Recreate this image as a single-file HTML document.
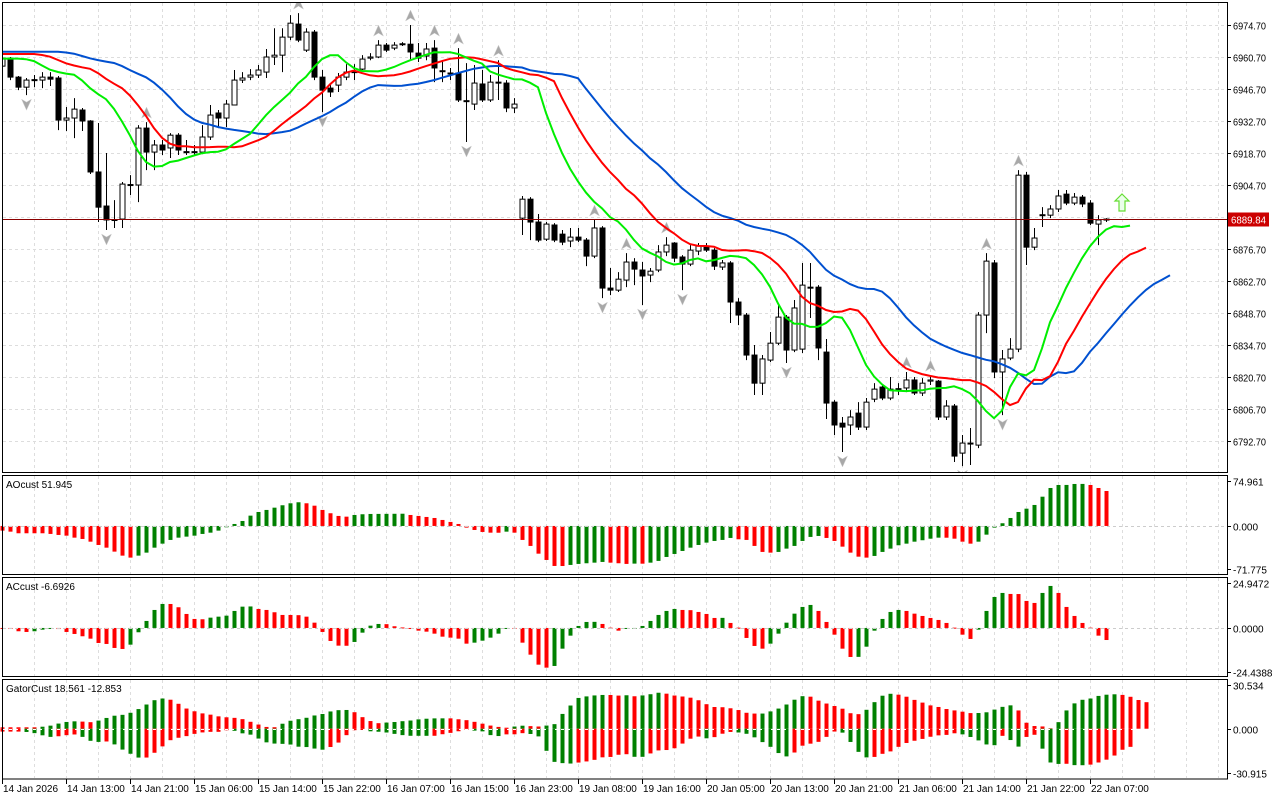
<!DOCTYPE html>
<html><head><meta charset="utf-8">
<style>
html,body{margin:0;padding:0;background:#fff;}
svg{display:block;font-family:"Liberation Sans",sans-serif;}
</style></head>
<body>
<svg id="chart" xmlns="http://www.w3.org/2000/svg" width="1280" height="800">
  <defs><clipPath id="mainClip"><rect x="3" y="3" width="1224" height="469"/></clipPath></defs>
  <rect x="0" y="0" width="1280" height="800" fill="#ffffff"/>
  <g id="grid"></g>
  <g id="main" clip-path="url(#mainClip)"></g>
  <g id="ao"></g>
  <g id="ac"></g>
  <g id="gator"></g>
  <g id="frames"></g>
  <g id="axes"></g>
</svg>
<script>
// ---------- DATA ----------
const timeLabels = ["14 Jan 2026","14 Jan 13:00","14 Jan 21:00","15 Jan 06:00","15 Jan 14:00","15 Jan 22:00","16 Jan 07:00","16 Jan 15:00","16 Jan 23:00","19 Jan 08:00","19 Jan 16:00","20 Jan 05:00","20 Jan 13:00","20 Jan 21:00","21 Jan 06:00","21 Jan 14:00","21 Jan 22:00","22 Jan 07:00"];
const priceTicks = [6974.70,6960.70,6946.70,6932.70,6918.70,6904.70,6890.70,6876.70,6862.70,6848.70,6834.70,6820.70,6806.70,6792.70];
const priceTickLabels = ["6974.70","6960.70","6946.70","6932.70","6918.70","6904.70","6890.70","6876.70","6862.70","6848.70","6834.70","6820.70","6806.70","6792.70"];
const lastPrice = 6889.84;
const O = [6956.7,6960.2,6951.9,6947.5,6950.6,6950.6,6951.9,6951.5,6933.1,6934.0,6937.5,6932.7,6910.4,6895.5,6889.4,6889.8,6904.7,6904.7,6929.6,6919.1,6922.2,6920.9,6926.5,6919.1,6919.3,6919.1,6925.7,6936.2,6934.0,6939.7,6950.6,6951.9,6952.8,6954.1,6960.7,6961.5,6969.4,6975.1,6963.7,6971.6,6951.9,6947.1,6948.4,6951.9,6954.1,6955.4,6960.2,6960.7,6965.9,6964.6,6966.3,6966.3,6962.4,6961.1,6964.6,6954.5,6953.7,6953.7,6941.4,6940.1,6948.9,6941.9,6949.7,6949.3,6938.4,6890.2,6898.5,6888.5,6881.0,6887.2,6883.2,6880.2,6881.9,6880.6,6873.6,6885.9,6859.6,6858.7,6863.1,6871.0,6867.5,6865.3,6867.5,6875.4,6879.3,6873.2,6870.1,6875.8,6878.0,6876.2,6868.8,6870.6,6853.5,6847.8,6830.3,6818.0,6828.1,6835.5,6846.9,6832.5,6832.9,6860.0,6860.0,6831.6,6809.7,6800.5,6799.7,6804.9,6798.8,6811.0,6816.3,6811.5,6815.4,6815.9,6819.4,6813.7,6818.9,6818.9,6803.2,6808.0,6787.4,6791.8,6790.9,6847.8,6870.6,6822.9,6829.0,6832.9,6909.0,6877.5,6891.5,6891.5,6894.2,6900.7,6896.8,6899.4,6896.8,6887.6,6889.4];
const H = [6961.5,6960.7,6952.4,6951.5,6952.8,6954.1,6954.1,6952.4,6938.8,6942.7,6938.4,6933.1,6931.8,6918.7,6898.1,6906.0,6909.0,6930.9,6932.2,6924.4,6924.4,6927.4,6927.4,6924.4,6922.2,6930.9,6939.7,6937.5,6941.9,6955.0,6954.1,6955.4,6957.2,6964.2,6973.3,6973.3,6979.0,6979.9,6973.3,6972.5,6955.0,6948.4,6953.7,6957.6,6957.6,6961.5,6962.4,6968.1,6966.8,6967.2,6967.2,6974.7,6966.8,6966.8,6968.1,6959.3,6955.9,6964.6,6958.0,6957.2,6955.0,6952.8,6959.3,6950.6,6942.7,6899.9,6899.4,6892.0,6888.5,6888.0,6885.0,6885.9,6885.9,6881.5,6889.4,6886.7,6868.4,6866.6,6874.9,6872.7,6871.0,6868.4,6878.4,6881.9,6879.7,6874.0,6878.4,6879.3,6879.3,6877.1,6871.9,6871.4,6855.2,6848.7,6834.7,6830.3,6840.4,6852.2,6847.8,6854.4,6870.6,6870.6,6860.9,6837.3,6810.6,6803.2,6806.2,6809.7,6811.5,6818.0,6817.2,6820.7,6818.0,6822.9,6820.7,6820.2,6821.5,6819.4,6810.6,6808.9,6795.3,6798.4,6849.1,6874.9,6871.9,6832.5,6837.7,6911.2,6910.4,6885.9,6895.0,6895.9,6902.5,6902.5,6901.2,6900.3,6898.1,6891.5,6890.2];
const L = [6955.9,6950.6,6946.2,6944.0,6947.5,6947.1,6948.0,6928.7,6928.3,6925.2,6928.3,6909.5,6888.5,6885.0,6885.9,6885.9,6900.3,6897.2,6911.2,6911.2,6917.8,6916.5,6917.8,6917.8,6917.8,6918.2,6924.4,6929.6,6930.0,6939.7,6949.3,6950.6,6951.5,6951.5,6957.2,6954.1,6968.1,6967.2,6962.9,6950.6,6936.6,6943.2,6945.4,6950.6,6950.6,6955.0,6959.3,6960.2,6962.9,6963.7,6965.5,6959.3,6958.5,6959.3,6949.7,6949.7,6950.6,6941.0,6923.5,6937.5,6941.0,6941.0,6941.9,6936.6,6936.2,6882.8,6880.6,6879.7,6880.2,6879.7,6878.4,6877.5,6879.7,6869.2,6872.7,6855.2,6856.5,6857.9,6860.0,6860.9,6852.2,6862.2,6866.6,6873.6,6871.0,6858.7,6869.2,6874.0,6875.4,6867.5,6867.5,6844.3,6843.4,6828.1,6812.8,6812.8,6827.2,6834.7,6826.8,6831.6,6831.2,6846.5,6828.1,6802.3,6795.3,6787.9,6795.3,6797.5,6797.5,6809.7,6810.6,6810.6,6812.8,6814.1,6812.8,6812.4,6817.2,6801.9,6801.9,6783.5,6781.7,6782.2,6789.6,6839.9,6820.2,6804.0,6828.1,6831.6,6869.7,6876.2,6886.3,6890.2,6892.9,6895.9,6895.9,6895.0,6887.2,6878.4,6888.5];
const C = [6960.2,6951.9,6947.5,6950.6,6950.8,6951.9,6951.0,6933.1,6934.0,6937.9,6932.7,6910.4,6895.0,6889.4,6889.6,6905.1,6904.9,6929.6,6919.1,6922.2,6920.0,6926.5,6920.0,6919.3,6919.1,6925.7,6935.3,6934.0,6940.1,6950.6,6951.5,6952.8,6955.0,6960.7,6961.5,6969.4,6975.5,6968.1,6971.6,6951.9,6946.2,6945.4,6951.9,6954.1,6954.3,6959.8,6960.7,6965.9,6963.7,6965.9,6966.5,6962.9,6960.2,6964.2,6955.9,6954.7,6953.5,6941.9,6941.6,6949.3,6941.9,6949.7,6949.5,6938.4,6940.1,6898.5,6888.5,6880.6,6887.6,6880.6,6879.7,6881.9,6880.6,6873.6,6885.9,6859.6,6858.7,6863.5,6871.0,6867.9,6864.9,6867.0,6875.4,6878.4,6872.7,6870.1,6876.2,6878.0,6876.2,6869.2,6870.6,6853.5,6847.8,6830.3,6818.0,6828.6,6835.5,6846.9,6832.5,6850.9,6860.9,6859.8,6833.4,6809.3,6799.7,6798.8,6803.2,6798.8,6809.7,6815.4,6811.5,6815.4,6815.6,6819.4,6813.7,6818.0,6819.4,6803.2,6808.0,6786.1,6791.8,6791.4,6847.8,6871.4,6822.9,6828.6,6832.9,6909.0,6877.5,6881.5,6891.7,6894.2,6899.9,6896.8,6899.4,6896.4,6888.0,6889.4,6889.8];
const jawSeed = 6963.0, teethSeed = 6962.0, lipsSeed = 6960.0;
const jawPeriod = 13, teethPeriod = 8, lipsPeriod = 5;
const jawShift = 8, teethShift = 5, lipsShift = 3;
const aoValues = [-7.8,-9.5,-12.2,-12.2,-12.2,-12.2,-13.3,-15,-16.2,-19.5,-21.7,-26.2,-31.7,-36.2,-42.8,-49.5,-52.8,-49.5,-44.5,-36.2,-29.5,-23.3,-19.5,-17.8,-16.2,-13.3,-11.2,-7.8,-2.2,3.3,8.3,17.2,23.3,26.7,30.5,34.5,37.8,39.5,37.8,33.8,26.7,21.2,16.7,15.5,18.3,19.5,20,20.1,20.2,20.3,20.4,18.3,16.7,15,13.3,10,6.7,3.3,-2.8,-6.7,-10,-11.2,-11.3,-9.5,-11.2,-23.3,-33.3,-46.2,-56.7,-66.7,-66.8,-65,-63.3,-62.2,-61.2,-60,-61.2,-62.2,-63.3,-62.8,-62.9,-61.2,-58.3,-51.7,-46.7,-41.7,-36.2,-31.7,-27.8,-25,-23.3,-20,-22.2,-23.3,-33.3,-43.3,-44.5,-43.3,-37.8,-33.3,-25,-18.3,-16.7,-20,-25,-34.5,-44.5,-51.2,-52.8,-50,-43.3,-37.8,-32.2,-29.5,-26.2,-23.8,-21.2,-19.5,-19.6,-21.2,-26.2,-29.5,-26.2,-14.5,-2.8,4.5,13.3,23.3,28.8,35,48.8,63.3,68.3,68.4,70,70.1,68.3,63.3,58.3];
const acValues = [0,-0.55,-1.83,-2.22,-1.83,-0.94,-0.55,-0.6,-2.22,-3.33,-4.61,-5.94,-8.33,-8.88,-11.1,-11.66,-9.27,-2.39,3.89,9.99,13.32,13.3,11.49,7.77,5.0,4.83,5.72,6.27,6.83,9.44,11.82,11.93,10.55,9.99,8.71,7.22,7.21,7.1,6.27,2.94,-2.22,-7.22,-9.82,-9.88,-7.77,-2.61,1.28,2.22,2.11,0.94,0.28,0,-1.5,-2.05,-3.16,-4.83,-5.38,-5.94,-8.71,-8.16,-7.05,-5.38,-3.16,-0.39,-0.45,-8.16,-14.82,-20.37,-22.03,-21.09,-11.49,-4.27,1.11,3.33,3.39,2.22,0.17,-1.5,-0.39,0,1.11,3.89,7.22,9.44,10.55,9.99,9.88,8.88,7.77,5.55,5.6,2.78,0.17,-5.55,-9.99,-11.49,-8.71,-3.16,2.94,7.94,11.66,12.77,9.44,3.33,-3.72,-11.49,-16.1,-16.04,-10.38,-1.5,5.0,8.88,9.99,9.44,7.94,6.66,5.55,4.44,2.78,0.17,-3.72,-6.1,-0.94,9.44,17.2,19.43,18.87,18.82,14.99,13.88,19.43,23.31,19.43,11.66,6.66,2.78,0.17,-4.27,-6.69];
const aoTicks = [74.961, 0, -71.775];
const aoTickLabels = ["74.961","0.000","-71.775"];
const acTicks = [24.9472, 0, -24.4388];
const acTickLabels = ["24.9472","0.0000","-24.4388"];
const gatorTicks = [30.534, 0, -30.915];
const gatorTickLabels = ["30.534","0.000","-30.915"];

// ---------- AXES ----------
const NS = "http://www.w3.org/2000/svg";
const xOf = i => 2 + 8 * i;
const yP = p => 25 + (6974.7 - p) * (416 / 182);
const yAO = v => 481 + (74.961 - v) * (88 / 146.736);
const yAC = v => 583 + (24.9472 - v) * (89 / 49.386);
const yG = v => 685 + (30.534 - v) * (88 / 61.449);
const GREEN = "#008000", RED = "#ff0000";

function mk(tag, attrs, parent) {
  const el = document.createElementNS(NS, tag);
  for (const k in attrs) el.setAttribute(k, attrs[k]);
  parent.appendChild(el);
  return el;
}
const gGrid = document.getElementById("grid");
const gMain = document.getElementById("main");
const gAO = document.getElementById("ao");
const gAC = document.getElementById("ac");
const gGator = document.getElementById("gator");
const gFrames = document.getElementById("frames");
const gAxes = document.getElementById("axes");

const panels = [[3, 472], [476, 574], [578, 676], [680, 778]];
for (let x = 34; x < 1227; x += 32) {
  for (const pr of panels) {
    const ln = mk("line", {x1: x + 0.5, x2: x + 0.5, y1: pr[0], y2: pr[1], stroke: "#dddddd", "stroke-dasharray": "3,3"}, gGrid);
    
    
  }
}
priceTicks.forEach((p, k) => {
  const y = Math.round(yP(p)) + 0.5;
  const ln = mk("line", {x1: 3, x2: 1227, y1: y, y2: y, stroke: "#dddddd", "stroke-dasharray": "3,3"}, gGrid);
  
  
  const tk = mk("line", {x1: 1227, x2: 1231, y1: y, y2: y, stroke: "#000"}, gAxes);
  
  
  const t = mk("text", {x: 1233, y: y + 4, "font-size": 10, fill: "#000", textLength: 33, lengthAdjust: "spacingAndGlyphs"}, gAxes);
  t.textContent = priceTickLabels[k];
  
  
});

// ---------- ALLIGATOR ----------
const med = H.map((h, i) => (h + L[i]) / 2);
function smma(period, seed) {
  const out = []; let prev = seed;
  med.forEach(m => { prev = (prev * (period - 1) + m) / period; out.push(prev); });
  return out;
}
const jawS = smma(jawPeriod, jawSeed), teethS = smma(teethPeriod, teethSeed), lipsS = smma(lipsPeriod, lipsSeed);
function shifted(arr, shift, seed) {
  const pts = [];
  for (let j = 0; j < arr.length + shift; j++) {
    const k = j - shift;
    pts.push(k < 0 ? seed : arr[k]);
  }
  return pts;
}
const jaw = shifted(jawS, jawShift, jawSeed), teeth = shifted(teethS, teethShift, teethSeed), lips = shifted(lipsS, lipsShift, lipsSeed);

for (let i = 0; i < C.length; i++) {
  const x = xOf(i);
  const wick = mk("line", {x1: x + 0.5, x2: x + 0.5, y1: yP(H[i]), y2: yP(L[i]), stroke: "#000", "stroke-width": 1}, gMain);
  
  
  const top = yP(Math.max(O[i], C[i])), bot = yP(Math.min(O[i], C[i]));
  const bull = C[i] >= O[i];
  const body = mk("rect", {x: x - 2, y: top, width: 5, height: Math.max(1, bot - top), fill: bull ? "#fff" : "#000", stroke: "#000", "stroke-width": 1}, gMain);
  
  
}
for (let i = 2; i < C.length - 2; i++) {
  const x = xOf(i) + 0.5;
  if (H[i] > H[i-1] && H[i] > H[i-2] && H[i] > H[i+1] && H[i] > H[i+2]) {
    const y = yP(H[i]) - 9;
    const f = mk("path", {d: `M${x},${y-6} L${x+5},${y+5} L${x},${y+2} L${x-5},${y+5} Z`, fill: "#a8a8a8", stroke: "#d0d0d0", "stroke-width": 0.5}, gMain);
    
    
  }
  if (L[i] < L[i-1] && L[i] < L[i-2] && L[i] < L[i+1] && L[i] < L[i+2]) {
    const y = yP(L[i]) + 9;
    const f = mk("path", {d: `M${x},${y+6} L${x+5},${y-5} L${x},${y-2} L${x-5},${y-5} Z`, fill: "#a8a8a8", stroke: "#d0d0d0", "stroke-width": 0.5}, gMain);
    
    
  }
}
function drawLine(vals, color, name) {
  const d = vals.map((v, j) => (j ? "L" : "M") + xOf(j) + "," + yP(v).toFixed(1)).join(" ");
  const p = mk("path", {d: d, fill: "none", stroke: color, "stroke-width": 2}, gMain);
  
  
}
drawLine(jaw, "#0050d0", "alligator-jaw-line");
drawLine(teeth, "#ff0000", "alligator-teeth-line");
drawLine(lips, "#00ee00", "alligator-lips-line");

{
  const y = Math.round(yP(lastPrice)) + 0.5;
  const ln = mk("line", {x1: 3, x2: 1227, y1: y, y2: y, stroke: "#8b0000", "stroke-width": 1}, gMain);
  
  
  const bx = mk("rect", {x: 1228, y: y - 7, width: 41, height: 14, fill: "#cc0000"}, gAxes);
  
  
  const t = mk("text", {x: 1231, y: y + 4, "font-size": 10, fill: "#fff", textLength: 35, lengthAdjust: "spacingAndGlyphs"}, gAxes);
  t.textContent = lastPrice.toFixed(2);
  
  
}
{
  const ar = mk("path", {d: "M1122,194 L1129,201 L1125,201 L1125,211 L1119,211 L1119,201 L1115,201 Z", fill: "#eaffea", stroke: "#66dd33", "stroke-width": 1.2}, gMain);
  
  
}

function zeroLine(g, y, color) {
  const ln = mk("line", {x1: 3, x2: 1227, y1: y, y2: y, stroke: color, "stroke-dasharray": "3,3"}, g);
  
  
}
function histo(g, vals, yf, name, colors) {
  const z = yf(0);
  vals.forEach((v, k) => {
    const x = xOf(k);
    const y1 = Math.min(yf(v), z), y2 = Math.max(yf(v), z);
    const r = mk("rect", {x: x - 1.5, y: y1, width: 4, height: Math.max(1, y2 - y1), fill: colors[k]}, g);
    
    
  });
}
histo(gAO, aoValues, yAO, "ao-bar", aoValues.map((v, i) => i > 0 && v > aoValues[i-1] ? GREEN : RED));
zeroLine(gAO, Math.round(yAO(0)) + 0.5, "#cccccc");
histo(gAC, acValues, yAC, "ac-bar", acValues.map((v, i) => i > 0 && v > acValues[i-1] ? GREEN : RED));
zeroLine(gAC, Math.round(yAC(0)) + 0.5, "#cccccc");
const gatorUp = [], gatorDown = [];
for (let j = 0; j < teeth.length; j++) gatorUp.push(Math.abs(jaw[j] - teeth[j]));
for (let j = 0; j < lips.length; j++) gatorDown.push(-Math.abs(teeth[j] - lips[j]));
histo(gGator, gatorUp, yG, "gator-upper-bar", gatorUp.map((v, i) => i > 0 && v > gatorUp[i-1] ? GREEN : RED));
histo(gGator, gatorDown, yG, "gator-lower-bar", gatorDown.map((v, i) => i > 0 && Math.abs(v) > Math.abs(gatorDown[i-1]) ? GREEN : RED));
zeroLine(gGator, Math.round(yG(0)) + 0.5, "#ffffff");

function subTicks(ticks, labels, yf, name) {
  ticks.forEach((v, k) => {
    const y = Math.round(yf(v)) + 0.5;
    const tk = mk("line", {x1: 1227, x2: 1231, y1: y, y2: y, stroke: "#000"}, gAxes);
    
    
    const t = mk("text", {x: 1233, y: y + 4, "font-size": 10, fill: "#000"}, gAxes);
    t.textContent = labels[k];
    
    
  });
}
subTicks(aoTicks, aoTickLabels, yAO, "ao");
subTicks(acTicks, acTickLabels, yAC, "ac");
subTicks(gatorTicks, gatorTickLabels, yG, "gator");

[["AOcust 51.945", 488, "ao-title"], ["ACcust -6.6926", 590, "ac-title"], ["GatorCust 18.561 -12.853", 692, "gator-title"]].forEach(a => {
  const t = mk("text", {x: 6, y: a[1], "font-size": 10, fill: "#000"}, gFrames);
  t.textContent = a[0];
  
  
});

[[2.5, 2.5, 1225, 470], [2.5, 475.5, 1225, 99], [2.5, 577.5, 1225, 99], [2.5, 679.5, 1225, 99.5]].forEach((r, k) => {
  const f = mk("rect", {x: r[0], y: r[1], width: r[2], height: r[3], fill: "none", stroke: "#000", "stroke-width": 1}, gFrames);
  
  
});

timeLabels.forEach((s, k) => {
  const x = 2 + 64 * k;
  const tk = mk("line", {x1: x + 0.5, x2: x + 0.5, y1: 779, y2: 784, stroke: "#000"}, gAxes);
  
  
  const t = mk("text", {x: x + 1, y: 792, "font-size": 10, fill: "#000"}, gAxes);
  t.textContent = s;
  
  
});
</script>
</body></html>
